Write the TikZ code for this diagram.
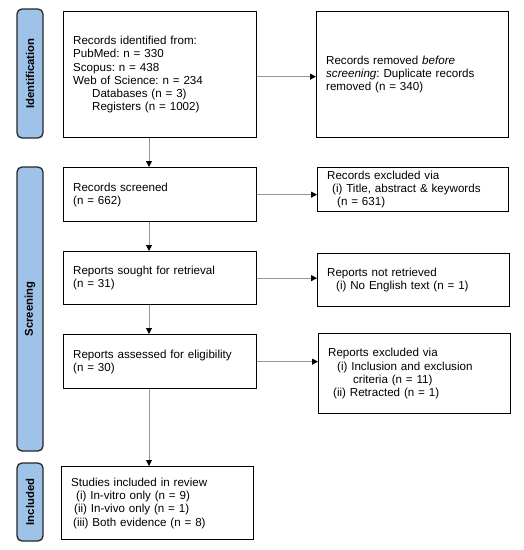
\documentclass[tikz,border=0pt]{standalone}
\usepackage{fontspec}
\setmainfont{Liberation Sans}
\usetikzlibrary{arrows.meta}
\definecolor{sidebar}{RGB}{158,194,232}
\definecolor{linegray}{RGB}{150,150,150}
\frenchspacing
\tikzset{
  box/.style={draw=black, line width=1.3pt, align=left, anchor=north west,
    inner xsep=9.5pt, inner ysep=0pt, font=\fontsize{11.6}{13.3}\selectfont\frenchspacing},
  phase/.style={draw=black!85, line width=1.3pt, fill=sidebar, rounded corners=5pt,
    rotate=90, minimum height=26pt, inner sep=0pt,
    font=\fontsize{11.3}{12}\selectfont\bfseries},
  flow/.style={draw=linegray, line width=1pt, -{Triangle[color=black, length=6pt, width=6pt]}}
}
\begin{document}
\begin{tikzpicture}[x=1pt, y=-1pt]
\useasboundingbox (0,0) rectangle (524,550);
% phase bars
\node[phase, minimum width=129pt] (pid) at (30,73.5) {Identification};
\node[phase, minimum width=284pt] (psc) at (30,309) {Screening};
\node[phase, minimum width=78pt] (pin) at (30,502) {Included};
% left column
\node[box, text width=174pt, minimum height=126pt] (b1) at (63,11)
  {Records identified from:\\
   PubMed: n = 330\\
   Scopus: n = 438\\
   Web of Science: n = 234\\
   \hspace*{19pt}Databases (n = 3)\\
   \hspace*{19pt}Registers (n = 1002)};
\node[box, text width=174pt, minimum height=54pt] (b2) at (63,167)
  {Records screened\\(n = 662)};
\node[box, text width=174pt, minimum height=53pt] (b3) at (63,251)
  {Reports sought for retrieval\\(n = 31)};
\node[box, text width=174pt, minimum height=54pt] (b4) at (63,334)
  {Reports assessed for eligibility\\(n = 30)};
\node[box, text width=173pt, minimum height=73pt] (b5) at (61,466)
  {Studies included in review\\
   \hspace*{5pt}(i) In-vitro only (n = 9)\\
   \hspace*{3pt}(ii) In-vivo only (n = 1)\\
   \hspace*{2pt}(iii) Both evidence (n = 8)};
% right column
\node[box, text width=173pt, minimum height=126pt] (r1) at (316,11)
  {Records removed \textit{before}\\
   \textit{screening}: Duplicate records\\
   removed (n = 340)};
\node[box, text width=172pt, minimum height=44pt] (r2) at (317,167)
  {Records excluded via\\
   \hspace*{5pt}(i) Title, abstract \& keywords\\
   \hspace*{10pt}(n = 631)};
\node[box, text width=173pt, minimum height=53pt] (r3) at (317,253)
  {Reports not retrieved\\
   \hspace*{9pt}(i) No English text (n = 1)};
\node[box, text width=173pt, minimum height=80pt] (r4) at (318,333)
  {Reports excluded via\\
   \hspace*{9pt}(i) Inclusion and exclusion\\
   \hspace*{25pt}criteria (n = 11)\\
   \hspace*{5pt}(ii) Retracted (n = 1)};
% vertical axis
\coordinate (ax) at (149,0);
\draw[flow] (b1.south -| ax) -- (b2.north -| ax);
\draw[flow] (b2.south -| ax) -- (b3.north -| ax);
\draw[flow] (b3.south -| ax) -- (b4.north -| ax);
\draw[flow] (b4.south -| ax) -- (b5.north -| ax);
% horizontal arrows
\draw[flow] ([yshift=-2pt]b1.east) -- ([yshift=-2pt]b1.east -| r1.west);
\draw[flow] (b2.east) -- (b2.east -| r2.west);
\draw[flow] (b3.east) -- (b3.east -| r3.west);
\draw[flow] (b4.east) -- (b4.east -| r4.west);
\end{tikzpicture}
\end{document}
